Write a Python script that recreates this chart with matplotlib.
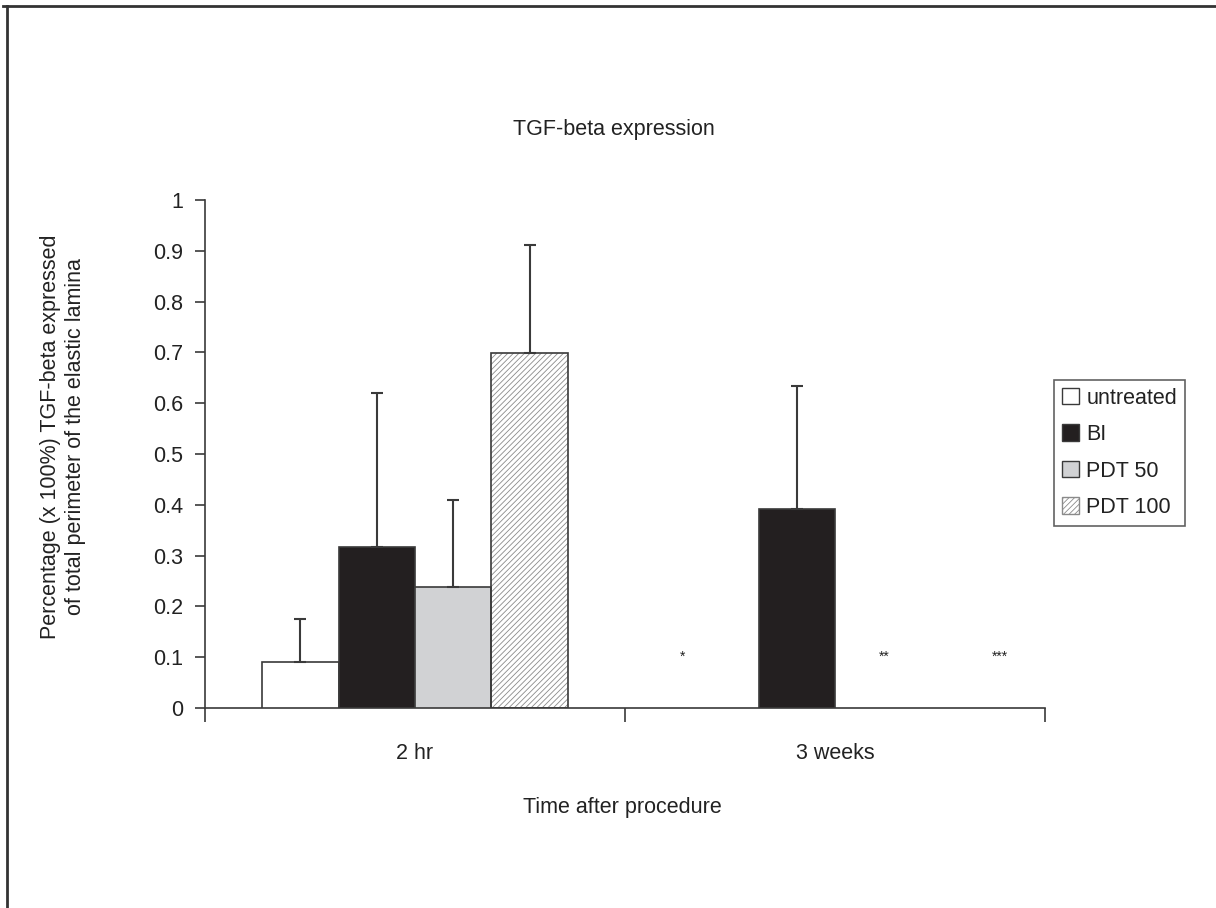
import matplotlib
matplotlib.use("Agg")
import matplotlib.pyplot as plt
from matplotlib.patches import Patch
from matplotlib.lines import Line2D
import numpy as np

plt.rcParams['font.family'] = ['Liberation Sans', 'DejaVu Sans']
plt.rcParams['hatch.linewidth'] = 0.6

# data
groups = ['2 hr', '3 weeks']
series = ['untreated', 'BI', 'PDT 50', 'PDT 100']
means = {
    'untreated': [0.09, 0.0],
    'BI': [0.316, 0.391],
    'PDT 50': [0.239, 0.0],
    'PDT 100': [0.699, 0.0],
}
errors = {
    'untreated': [0.085, 0.0],
    'BI': [0.304, 0.243],
    'PDT 50': [0.171, 0.0],
    'PDT 100': [0.213, 0.0],
}
# star notes drawn where the 3 week bars are missing
star_labels = ['*', '**', '***']
star_x = [0.638, 1.117, 1.393]
star_y = [0.1, 0.1, 0.1]

faces = {'untreated': 'white', 'BI': '#231f20', 'PDT 50': '#d1d2d4', 'PDT 100': 'white'}
edge = '#3a3a3a'
txt = '#222222'
fs = 15.5

fig = plt.figure(figsize=(12.16, 9.08), dpi=100)
ax = fig.add_axes([205/1216, 200/908, 840/1216, 508/908])

x = np.arange(len(groups))
w = 1 / 5.5
for i, s in enumerate(series):
    pos = x + (i - 1.5) * w
    vals = np.array(means[s])
    errs = np.array(errors[s])
    keep = vals > 0
    if s == 'PDT 100':
        ax.bar(pos[keep], vals[keep], w, color='white', edgecolor='#8a8a8a',
               hatch='//////', linewidth=0, zorder=2)
        ax.bar(pos[keep], vals[keep], w, fill=False, edgecolor=edge,
               linewidth=1.2, zorder=3)
    else:
        ax.bar(pos[keep], vals[keep], w, color=faces[s], edgecolor=edge,
               linewidth=1.2, zorder=3)
    ax.errorbar(pos[keep], vals[keep], yerr=[np.zeros(keep.sum()), errs[keep]],
                fmt='none', ecolor=edge, elinewidth=1.5, capsize=4.5,
                capthick=1.5, zorder=4)

for lab, sx, sy in zip(star_labels, star_x, star_y):
    ax.text(sx, sy, lab, ha='center', va='center', fontsize=10, color=txt)

ax.set_xlim(-0.5, 1.5)
ax.set_ylim(0, 1)
ax.set_yticks(np.arange(0, 1.01, 0.1))
ax.set_yticklabels(['0', '0.1', '0.2', '0.3', '0.4', '0.5', '0.6', '0.7', '0.8', '0.9', '1'])
ax.set_xticks([-0.5, 0.5, 1.5])
ax.set_xticklabels([])
ax.set_xticks(x, minor=True)
ax.set_xticklabels(groups, minor=True)
ax.tick_params(axis='x', which='minor', length=0, pad=25, labelsize=fs, colors=txt)
ax.tick_params(axis='x', which='major', length=10, width=1.2, direction='out', color=edge)
ax.tick_params(axis='y', length=7, width=1.2, direction='out', color=edge,
               labelsize=fs, labelcolor=txt, pad=9)
for sp in ['top', 'right']:
    ax.spines[sp].set_visible(False)
for sp in ['left', 'bottom']:
    ax.spines[sp].set_color(edge)
    ax.spines[sp].set_linewidth(1.2)

fig.text(614/1216, 1 - 130/908, 'TGF-beta expression', ha='center', va='center',
         fontsize=fs, color=txt)
fig.text(622/1216, 1 - 807/908, 'Time after procedure', ha='center', va='center',
         fontsize=fs, color=txt)
fig.text(63/1216, 1 - 437/908,
         'Percentage (x 100%) TGF-beta expressed\nof total perimeter of the elastic lamina',
         ha='center', va='center', rotation=90, fontsize=fs, color=txt,
         linespacing=1.2)

handles = [
    Patch(facecolor='white', edgecolor=edge),
    Patch(facecolor='#231f20', edgecolor=edge),
    Patch(facecolor='#d1d2d4', edgecolor=edge),
    Patch(facecolor='white', edgecolor='#8a8a8a', hatch='//////'),
]
leg = fig.legend(handles, series, loc='upper left',
                 bbox_to_anchor=(1054/1216, 1 - 380/908), fontsize=fs,
                 frameon=True, fancybox=False, borderpad=0.35, labelspacing=0.72,
                 handlelength=0.8, handleheight=0.8, handletextpad=0.35,
                 borderaxespad=0)
leg.get_frame().set_edgecolor(edge)
leg.get_frame().set_linewidth(1.2)
for t in leg.get_texts():
    t.set_color(txt)

# outer frame lines (top and left only, as in the scan)
fig.add_artist(Line2D([3/1216, 1], [1 - 6/908, 1 - 6/908], color='#333333', lw=2))
fig.add_artist(Line2D([7/1216, 7/1216], [0, 1 - 6/908], color='#333333', lw=2))

fig.savefig('out.png', dpi=100)
